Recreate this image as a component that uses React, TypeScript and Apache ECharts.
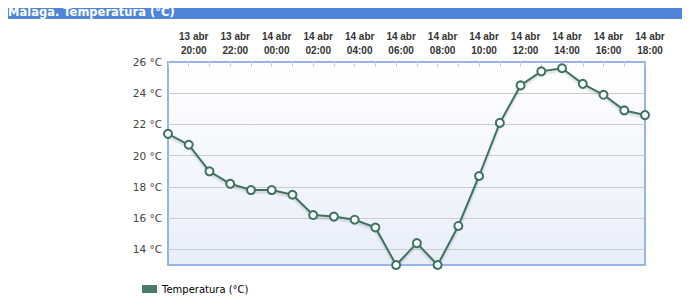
import React, { useEffect, useRef } from "react";
import * as echarts from "echarts";

const categories = [
  "13 abr\n19:00", "13 abr\n20:00", "13 abr\n21:00", "13 abr\n22:00", "13 abr\n23:00",
  "14 abr\n00:00", "14 abr\n01:00", "14 abr\n02:00", "14 abr\n03:00", "14 abr\n04:00",
  "14 abr\n05:00", "14 abr\n06:00", "14 abr\n07:00", "14 abr\n08:00", "14 abr\n09:00",
  "14 abr\n10:00", "14 abr\n11:00", "14 abr\n12:00", "14 abr\n13:00", "14 abr\n14:00",
  "14 abr\n15:00", "14 abr\n16:00", "14 abr\n17:00", "14 abr\n18:00",
];
const temperatura = [
  21.4, 20.7, 19.0, 18.2, 17.8, 17.8, 17.5, 16.2, 16.1, 15.9, 15.4, 13.0,
  14.4, 13.0, 15.5, 18.7, 22.1, 24.5, 25.4, 25.6, 24.6, 23.9, 22.9, 22.6,
];
const gridValues = [14, 16, 18, 20, 22, 24];
const seriesName = "Temperatura (°C)";
const titleText = "Málaga. Temperatura (°C)";

export default function App() {
  const ref = useRef<HTMLDivElement>(null);
  useEffect(() => {
    if (!ref.current) return;
    const chart = echarts.init(ref.current, null, { renderer: "svg" });
    chart.setOption({
      animation: false,
      graphic: [
        {
          type: "rect",
          shape: { x: 2, y: 4, width: 688, height: 15 },
          style: { fill: "#4f86d8" },
          silent: true,
        },
        {
          type: "text",
          x: 8,
          y: 12,
          style: {
            text: titleText,
            fill: "#ffffff",
            font: "bold 11.5px 'DejaVu Sans'",
            verticalAlign: "middle",
            align: "left",
          },
          silent: true,
        },
      ],
      legend: {
        left: 137,
        top: 279,
        icon: "rect",
        itemWidth: 15,
        itemHeight: 8,
        itemGap: 4,
        textStyle: { fontFamily: "DejaVu Sans", fontSize: 10, color: "#000" },
        data: [{ name: seriesName, itemStyle: { color: "#4a7a68", borderWidth: 0 } }],
      },
      grid: {
        left: 168,
        right: 45,
        top: 62,
        bottom: 43,
        show: true,
        borderColor: "#95b4e8",
        borderWidth: 2,
        backgroundColor: new echarts.graphic.LinearGradient(0, 0, 0, 1, [
          { offset: 0, color: "#ffffff" },
          { offset: 1, color: "#e8eefa" },
        ]),
      },
      xAxis: {
        type: "category",
        position: "top",
        data: categories,
        boundaryGap: false,
        axisLine: { show: false },
        axisTick: {
          show: true,
          inside: true,
          length: 5,
          interval: 0,
          lineStyle: { color: "#cccccc" },
        },
        axisLabel: {
          interval: (i: number) => i % 2 === 1,
          margin: 5,
          padding: [0, 0, 0, 10],
          fontFamily: "Liberation Sans",
          fontWeight: "bold",
          fontSize: 10,
          lineHeight: 13.5,
          color: "#333333",
        },
        splitLine: { show: false },
      },
      yAxis: {
        type: "value",
        min: 13,
        max: 26,
        interval: 1,
        axisLine: { show: false },
        axisTick: { show: false },
        splitLine: { show: false },
        axisLabel: {
          margin: 6,
          fontFamily: "DejaVu Sans",
          fontSize: 10.5,
          color: "#444444",
          formatter: (v: number) => (v % 2 === 0 ? `${v} °C` : ""),
        },
      },
      series: [
        {
          name: seriesName,
          type: "line",
          data: temperatura,
          symbol: "circle",
          symbolSize: 8,
          showSymbol: true,
          lineStyle: {
            color: "#3f7262",
            width: 2,
            shadowColor: "rgba(0,0,0,0.18)",
            shadowBlur: 2,
            shadowOffsetY: 2,
          },
          itemStyle: {
            color: "#ffffff",
            borderColor: "#3f7262",
            borderWidth: 2,
          },
          markLine: {
            silent: true,
            symbol: "none",
            label: { show: false },
            lineStyle: { color: "#cccccc", width: 1, type: "solid" },
            z: 1,
            data: gridValues.map((v) => ({ yAxis: v })),
          },
          z: 3,
        },
      ],
    });
    return () => chart.dispose();
  }, []);
  return <div ref={ref} style={{ width: 690, height: 308, margin: -8 }} />;
}
